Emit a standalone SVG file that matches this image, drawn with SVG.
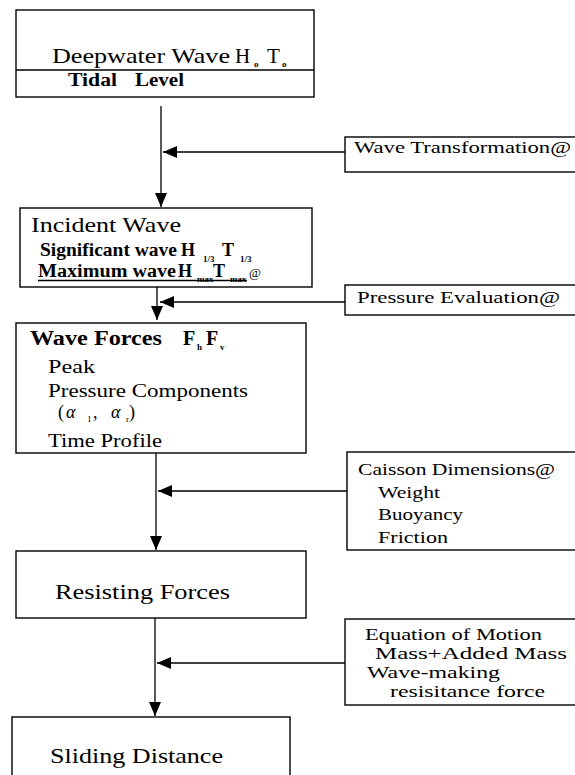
<svg xmlns="http://www.w3.org/2000/svg" width="575" height="775" viewBox="0 0 575 775">
<style>
.box{fill:#fff;stroke:#000;stroke-width:1.4}
.ln{stroke:#000;stroke-width:1.3;fill:none}
text{font-family:"Liberation Serif","Times New Roman",serif;fill:#000}
.big{font-size:21px}
.b{font-weight:bold}
.m{font-size:18px}
.r{font-size:17px}
.sub{font-size:9px}
</style>
<defs>
<marker id="ah" markerUnits="userSpaceOnUse" markerWidth="15" markerHeight="12" refX="14" refY="6" orient="auto">
<path d="M0,0 L14,6 L0,12 z" fill="#000"/>
</marker>
</defs>
<rect x="0" y="0" width="575" height="775" fill="#fff"/>

<g id="deepwater">
<rect class="box" x="16" y="10" width="298" height="87"/>
<line class="ln" x1="16" y1="70" x2="314" y2="70"/>
<text class="big" x="52" y="63" textLength="178" lengthAdjust="spacingAndGlyphs">Deepwater Wave</text>
<text class="big" x="235" y="63">H</text>
<text class="sub b" x="254" y="67">o</text>
<text class="big" x="267" y="63">T</text>
<text class="sub b" x="282" y="67">o</text>
<text class="m b" x="68" y="86" textLength="49" lengthAdjust="spacingAndGlyphs">Tidal</text>
<text class="m b" x="135" y="86" textLength="49" lengthAdjust="spacingAndGlyphs">Level</text>
</g>

<g id="incident">
<rect class="box" x="20" y="208" width="292" height="79"/>
<text class="big" x="31" y="232" textLength="150" lengthAdjust="spacingAndGlyphs">Incident Wave</text>
<text class="m b" x="40" y="256" textLength="137" lengthAdjust="spacingAndGlyphs">Significant wave</text>
<text class="m b" x="181" y="256">H</text>
<text class="sub b" x="203" y="262" font-size="8">1/3</text>
<text class="m b" x="222" y="256">T</text>
<text class="sub b" x="240" y="262" font-size="8">1/3</text>
<text class="m b" x="38" y="277" textLength="138" lengthAdjust="spacingAndGlyphs">Maximum wave</text>
<text class="m b" x="178" y="277">H</text>
<text class="sub b" x="197" y="282" font-size="8">max</text>
<text class="m b" x="213" y="277">T</text>
<text class="sub b" x="230" y="282" font-size="8">max</text>
<text x="249" y="277" font-size="13">@</text>
<line class="ln" x1="38" y1="280.5" x2="247" y2="280.5"/>
</g>

<g id="waveforces">
<rect class="box" x="16" y="323" width="290" height="130"/>
<text class="b" font-size="20" x="30" y="345" textLength="132" lengthAdjust="spacingAndGlyphs">Wave Forces</text>
<text class="b" font-size="20" x="183" y="345">F</text>
<text class="sub b" x="197" y="350">h</text>
<text class="b" font-size="20" x="206" y="345">F</text>
<text class="sub b" x="220" y="350">v</text>
<text class="m" x="48" y="373" textLength="47" lengthAdjust="spacingAndGlyphs">Peak</text>
<text class="m" x="48" y="397" textLength="200" lengthAdjust="spacingAndGlyphs">Pressure Components</text>
<text class="m" x="58" y="418">(</text>
<text class="m" x="66" y="418" font-style="italic" font-size="20">α</text>
<text class="sub" x="87" y="422">1</text>
<text class="m" x="93" y="418">,</text>
<text class="m" x="111" y="418" font-style="italic" font-size="20">α</text>
<text class="sub" x="126" y="422">r</text>
<text class="m" x="129" y="418">)</text>
<text class="m" x="48" y="447" textLength="114" lengthAdjust="spacingAndGlyphs">Time Profile</text>
</g>

<g id="resisting">
<rect class="box" x="16" y="551" width="290" height="67"/>
<text class="big" x="55" y="599" textLength="175" lengthAdjust="spacingAndGlyphs">Resisting Forces</text>
</g>

<g id="sliding">
<rect class="box" x="12" y="717" width="278" height="80"/>
<text class="big" x="50" y="763" textLength="173" lengthAdjust="spacingAndGlyphs">Sliding Distance</text>
</g>

<g id="wavetransformation">
<rect class="box" x="345" y="137" width="240" height="35"/>
<text class="r" x="354" y="153" textLength="217" lengthAdjust="spacingAndGlyphs">Wave Transformation@</text>
</g>

<g id="pressureevaluation">
<rect class="box" x="345" y="285" width="240" height="30"/>
<text class="r" x="357" y="303" textLength="203" lengthAdjust="spacingAndGlyphs">Pressure Evaluation@</text>
</g>

<g id="caisson">
<rect class="box" x="347" y="452" width="240" height="98"/>
<text class="r" x="358" y="475" textLength="197" lengthAdjust="spacingAndGlyphs">Caisson Dimensions@</text>
<text class="r" x="378" y="498" textLength="62" lengthAdjust="spacingAndGlyphs">Weight</text>
<text class="r" x="378" y="520" textLength="85" lengthAdjust="spacingAndGlyphs">Buoyancy</text>
<text class="r" x="378" y="543" textLength="70" lengthAdjust="spacingAndGlyphs">Friction</text>
</g>

<g id="equation">
<rect class="box" x="345" y="619" width="240" height="86"/>
<text class="r" x="365" y="640" textLength="177" lengthAdjust="spacingAndGlyphs">Equation of Motion</text>
<text class="r" x="375" y="659" textLength="192" lengthAdjust="spacingAndGlyphs">Mass+Added Mass</text>
<text class="r" x="367" y="678" textLength="133" lengthAdjust="spacingAndGlyphs">Wave-making</text>
<text class="r" x="390" y="697" textLength="155" lengthAdjust="spacingAndGlyphs">resisitance force</text>
</g>

<g id="connectors">
<line class="ln" x1="161" y1="106" x2="161" y2="207" marker-end="url(#ah)"/>
<line class="ln" x1="345" y1="152" x2="163" y2="152" marker-end="url(#ah)"/>
<line class="ln" x1="157" y1="287" x2="157" y2="320" marker-end="url(#ah)"/>
<line class="ln" x1="345" y1="302" x2="160" y2="302" marker-end="url(#ah)"/>
<line class="ln" x1="156" y1="453" x2="156" y2="550" marker-end="url(#ah)"/>
<line class="ln" x1="347" y1="491" x2="158" y2="491" marker-end="url(#ah)"/>
<line class="ln" x1="155" y1="618" x2="155" y2="716" marker-end="url(#ah)"/>
<line class="ln" x1="345" y1="663" x2="157" y2="663" marker-end="url(#ah)"/>
</g>
</svg>
